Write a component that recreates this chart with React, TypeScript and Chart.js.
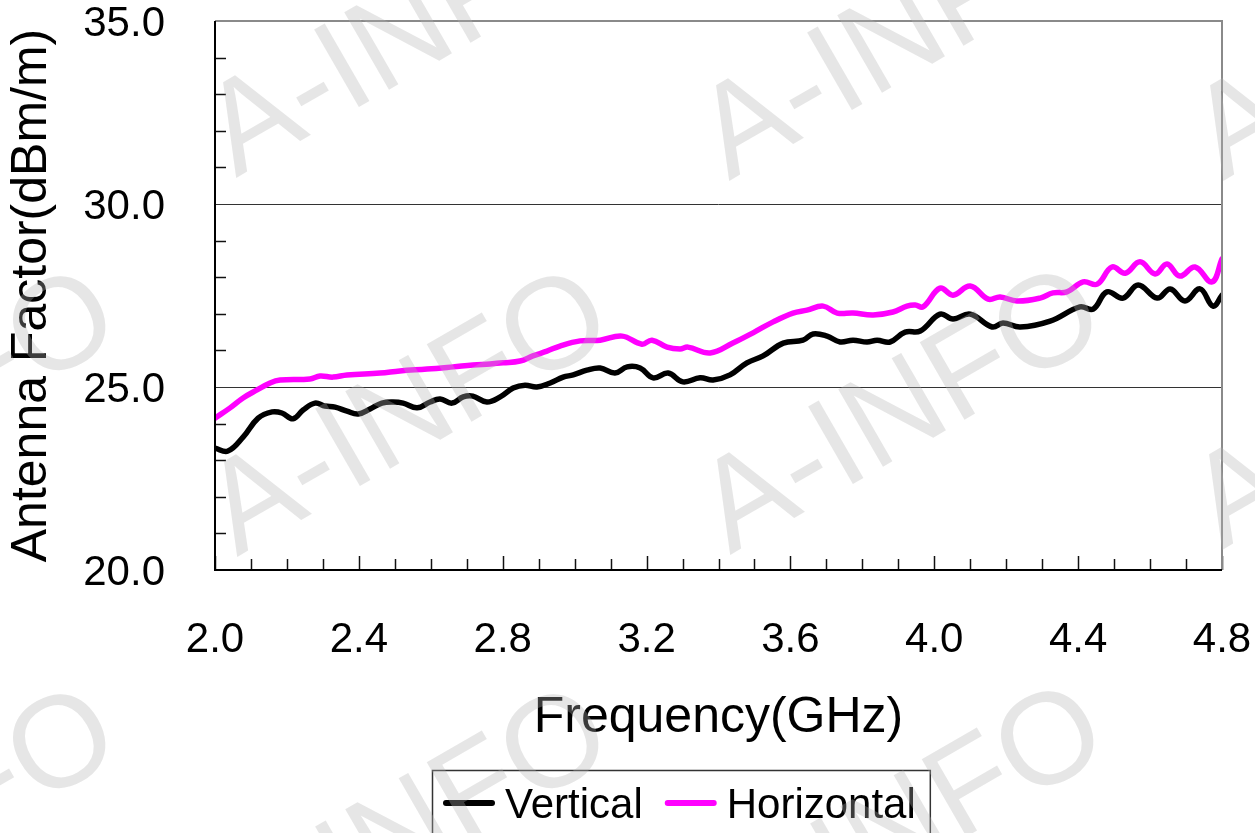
import React, { useEffect, useRef } from "react";
import { Chart, registerables } from "chart.js";

Chart.register(...registerables);

// ---- Data ----
const verticalFreq = [
  2.0, 2.036, 2.078, 2.12, 2.159, 2.186, 2.217, 2.245, 2.278, 2.306, 2.334, 2.367, 2.398, 2.431, 2.464,
  2.495, 2.523, 2.562, 2.598, 2.626, 2.659, 2.69, 2.717, 2.756, 2.793, 2.829, 2.862, 2.895, 2.932, 2.968,
  2.996, 3.034, 3.071, 3.112, 3.146, 3.182, 3.218, 3.26, 3.301, 3.349, 3.385, 3.432, 3.479, 3.524, 3.58,
  3.635, 3.663, 3.702, 3.738, 3.774, 3.813, 3.841, 3.877, 3.919, 3.961, 4.016, 4.052, 4.1, 4.161, 4.191,
  4.239, 4.322, 4.405, 4.442, 4.48, 4.525, 4.567, 4.62, 4.656, 4.697, 4.739, 4.775, 4.8,
];
const verticalAF = [
  23.33, 23.25, 23.63, 24.15, 24.32, 24.29, 24.13, 24.37, 24.56, 24.48, 24.45, 24.34, 24.26, 24.4, 24.56,
  24.59, 24.56, 24.43, 24.59, 24.67, 24.56, 24.73, 24.75, 24.59, 24.73, 24.97, 25.05, 25.0, 25.11, 25.27,
  25.33, 25.46, 25.52, 25.38, 25.55, 25.52, 25.25, 25.38, 25.14, 25.25, 25.19, 25.33, 25.66, 25.85, 26.2,
  26.28, 26.45, 26.39, 26.23, 26.28, 26.23, 26.28, 26.23, 26.5, 26.53, 26.99, 26.86, 26.99, 26.64, 26.75,
  26.64, 26.8, 27.19, 27.13, 27.6, 27.43, 27.79, 27.43, 27.68, 27.35, 27.68, 27.21, 27.51,
];
const horizontalFreq = [
  2.0, 2.042, 2.078, 2.117, 2.153, 2.181, 2.264, 2.292, 2.328, 2.367, 2.459, 2.514, 2.59, 2.662, 2.717,
  2.765, 2.801, 2.848, 2.884, 2.923, 2.959, 3.015, 3.071, 3.132, 3.187, 3.215, 3.257, 3.293, 3.315, 3.377,
  3.44, 3.496, 3.552, 3.607, 3.646, 3.691, 3.73, 3.774, 3.83, 3.885, 3.924, 3.947, 3.969, 4.016, 4.052,
  4.1, 4.15, 4.183, 4.23, 4.294, 4.33, 4.369, 4.414, 4.453, 4.494, 4.531, 4.572, 4.614, 4.647, 4.683,
  4.725, 4.772, 4.8,
];
const horizontalAF = [
  24.15, 24.43, 24.7, 24.92, 25.11, 25.19, 25.22, 25.3, 25.27, 25.33, 25.38, 25.44, 25.49, 25.55, 25.6,
  25.63, 25.66, 25.71, 25.85, 25.98, 26.12, 26.26, 26.28, 26.39, 26.17, 26.28, 26.09, 26.04, 26.09, 25.93,
  26.2, 26.48, 26.78, 27.02, 27.1, 27.21, 27.02, 27.02, 26.97, 27.05, 27.21, 27.24, 27.19, 27.7, 27.51,
  27.76, 27.4, 27.46, 27.35, 27.43, 27.57, 27.6, 27.87, 27.81, 28.28, 28.11, 28.42, 28.09, 28.36, 28.03,
  28.28, 27.87, 28.5,
];

const seriesNames = ["Vertical", "Horizontal"];
const xTickValues = [2.0, 2.4, 2.8, 3.2, 3.6, 4.0, 4.4, 4.8];
const xMinorTicks = [
  2.1, 2.2, 2.3, 2.5, 2.6, 2.7, 2.9, 3.0, 3.1, 3.3, 3.4, 3.5, 3.7, 3.8, 3.9, 4.1, 4.2, 4.3, 4.5, 4.6, 4.7,
];
const yTickValues = [20, 25, 30, 35];
const yMinorTicks = [21, 22, 23, 24, 26, 27, 28, 29, 31, 32, 33, 34];
const xTitle = "Frequency(GHz)";
const yTitle = "Antenna Factor(dBm/m)";
const watermarkText = "A-INFO";

const FONT = "Arial, 'Liberation Sans', sans-serif";

const zeroPad = (s: any) => {
  s.paddingTop = 0;
  s.paddingBottom = 0;
  s.paddingLeft = 0;
  s.paddingRight = 0;
};

export default function App() {
  const ref = useRef<HTMLCanvasElement>(null);

  useEffect(() => {
    document.body.style.margin = "0";
    const canvas = ref.current;
    if (!canvas) return;

    const framePlugin = {
      id: "frameTicks",
      afterDatasetsDraw(chart: any) {
        const { ctx, chartArea } = chart;
        const { left, right, top, bottom } = chartArea;
        const xs = chart.scales.x;
        const ys = chart.scales.y;
        ctx.save();
        ctx.strokeStyle = "#111";
        ctx.lineWidth = 1.5;
        yMinorTicks.forEach((v) => {
          const py = Math.round(ys.getPixelForValue(v)) + 0.5;
          ctx.beginPath();
          ctx.moveTo(left, py);
          ctx.lineTo(left + 11, py);
          ctx.stroke();
        });
        xMinorTicks.forEach((v) => {
          const px = Math.round(xs.getPixelForValue(v)) + 0.5;
          ctx.beginPath();
          ctx.moveTo(px, bottom);
          ctx.lineTo(px, bottom - 11);
          ctx.stroke();
        });
        xTickValues.forEach((v) => {
          const px = Math.round(xs.getPixelForValue(v)) + 0.5;
          ctx.beginPath();
          ctx.moveTo(px, bottom);
          ctx.lineTo(px, bottom - 14);
          ctx.stroke();
        });
        ctx.lineWidth = 2;
        ctx.strokeStyle = "#8a8a8a";
        ctx.beginPath();
        ctx.moveTo(left, top);
        ctx.lineTo(right, top);
        ctx.lineTo(right, bottom);
        ctx.stroke();
        ctx.strokeStyle = "#000";
        ctx.beginPath();
        ctx.moveTo(left, top);
        ctx.lineTo(left, bottom);
        ctx.lineTo(right, bottom);
        ctx.stroke();
        ctx.restore();
      },
    };

    const legendPlugin = {
      id: "boxLegend",
      afterDraw(chart: any) {
        const { ctx } = chart;
        const ds = chart.data.datasets;
        ctx.save();
        ctx.font = `42px ${FONT}`;
        ctx.textBaseline = "middle";
        ctx.textAlign = "left";
        const boxX = 432;
        const boxY = 770;
        const lineLen = 52;
        const cy = 806;
        let x = boxX + 11;
        const widths: number[] = ds.map((d: any) => ctx.measureText(d.label).width);
        let totalW = 11;
        ds.forEach((d: any, i: number) => {
          totalW += lineLen + 10 + widths[i] + (i < ds.length - 1 ? 22 : 14);
        });
        ctx.strokeStyle = "#333";
        ctx.lineWidth = 1.5;
        ctx.strokeRect(boxX + 0.5, boxY + 0.5, totalW, 80);
        ds.forEach((d: any, i: number) => {
          ctx.strokeStyle = d.borderColor;
          ctx.lineWidth = 6;
          ctx.lineCap = "round";
          ctx.beginPath();
          ctx.moveTo(x + 3, cy - 3);
          ctx.lineTo(x + lineLen - 3, cy - 3);
          ctx.stroke();
          ctx.fillStyle = "#000";
          ctx.fillText(d.label, x + lineLen + 10, cy);
          x += lineLen + 10 + widths[i] + 22;
        });
        ctx.restore();
      },
    };

    const watermarkPlugin = {
      id: "watermark",
      afterDraw(chart: any) {
        const { ctx } = chart;
        const spots = [
          [236, 178], [729, 181], [1223, 181],
          [-256, 557], [237, 557], [730, 555], [1222, 550],
          [-256, 975], [237, 975], [732, 972],
        ];
        ctx.save();
        ctx.font = `130px ${FONT}`;
        ctx.textBaseline = "alphabetic";
        ctx.textAlign = "left";
        ctx.fillStyle = "rgba(180,180,180,0.33)";
        spots.forEach(([sx, sy]) => {
          ctx.save();
          ctx.translate(sx, sy);
          ctx.rotate((-30 * Math.PI) / 180);
          ctx.fillText(watermarkText, 0, 0);
          ctx.restore();
        });
        ctx.restore();
      },
    };

    const chart = new Chart(canvas, {
      type: "line",
      data: {
        datasets: [
          {
            label: seriesNames[0],
            data: verticalFreq.map((f, i) => ({ x: f, y: verticalAF[i] })),
            borderColor: "#000000",
            backgroundColor: "#000000",
            borderWidth: 5.5,
            pointRadius: 0,
            tension: 0.4,
            borderCapStyle: "round",
            borderJoinStyle: "round",
          },
          {
            label: seriesNames[1],
            data: horizontalFreq.map((f, i) => ({ x: f, y: horizontalAF[i] })),
            borderColor: "#ff00ff",
            backgroundColor: "#ff00ff",
            borderWidth: 5.5,
            pointRadius: 0,
            tension: 0.4,
            borderCapStyle: "round",
            borderJoinStyle: "round",
          },
        ],
      },
      options: {
        responsive: false,
        animation: false,
        devicePixelRatio: 1,
        layout: { padding: { left: 0, top: 21, right: 33, bottom: 0 } },
        plugins: {
          legend: { display: false },
          tooltip: { enabled: false },
        },
        scales: {
          x: {
            type: "linear",
            min: 2.0,
            max: 4.8,
            afterBuildTicks: (s: any) => {
              s.ticks = xTickValues.map((v) => ({ value: v }));
            },
            afterFit: (s: any) => {
              s.height = 263;
              zeroPad(s);
            },
            grid: { display: false, drawTicks: false },
            border: { display: false },
            ticks: {
              padding: 45,
              color: "#000",
              maxRotation: 0,
              autoSkip: false,
              font: { family: FONT, size: 42 },
              callback: (v: any) => Number(v).toFixed(1),
            },
            title: {
              display: true,
              text: xTitle,
              color: "#000",
              font: { family: FONT, size: 50 },
              padding: { top: 0, bottom: 85 },
            },
          },
          y: {
            type: "linear",
            min: 20,
            max: 35,
            afterBuildTicks: (s: any) => {
              s.ticks = yTickValues.map((v) => ({ value: v }));
            },
            afterFit: (s: any) => {
              s.width = 215;
              zeroPad(s);
            },
            grid: {
              drawTicks: false,
              lineWidth: 1,
              color: (c: any) =>
                c.tick && (c.tick.value === 25 || c.tick.value === 30) ? "#333" : "rgba(0,0,0,0)",
            },
            border: { display: false },
            ticks: {
              padding: 50,
              labelOffset: 3,
              color: "#000",
              font: { family: FONT, size: 42 },
              callback: (v: any) => Number(v).toFixed(1),
            },
            title: {
              display: true,
              text: yTitle,
              color: "#000",
              font: { family: FONT, size: 50 },
              padding: { top: 2, bottom: 0 },
            },
          },
        },
      },
      plugins: [framePlugin, legendPlugin, watermarkPlugin],
    } as any);

    return () => chart.destroy();
  }, []);

  return <canvas ref={ref} width={1255} height={833} style={{ display: "block" }} />;
}
